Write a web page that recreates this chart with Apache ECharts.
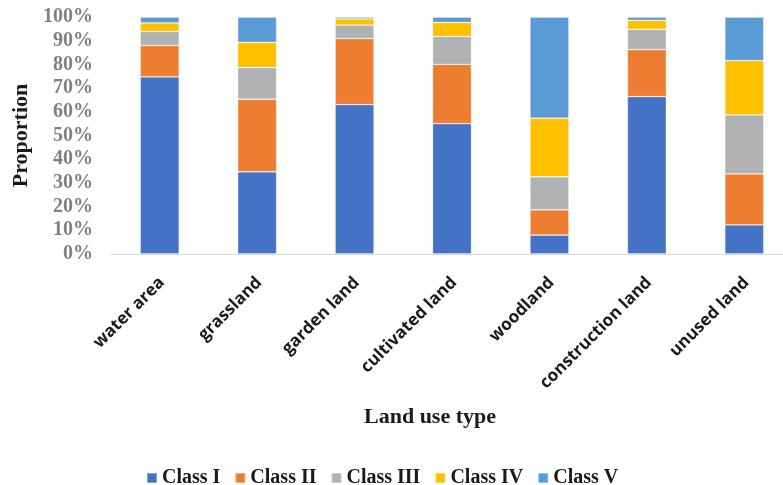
<!DOCTYPE html>
<html>
<head>
<meta charset="utf-8">
<script src="https://cdn.jsdelivr.net/npm/echarts@6/dist/echarts.min.js"></script>
<style>
  html, body { margin: 0; padding: 0; background: #fff; }
  #chart { width: 783px; height: 485px; }
</style>
</head>
<body>
<div id="chart"></div>
<script>
// Land use types along the x axis
const landTypes = ['water area', 'grassland', 'garden land', 'cultivated land', 'woodland', 'construction land', 'unused land'];

// Share (%) of each class within every land use type
const classI   = [74.7, 34.7, 63.0, 55.0,  8.0, 66.4, 12.3];
const classII  = [13.3, 30.6, 27.9, 25.0, 10.6, 19.8, 21.5];
const classIII = [ 5.9, 13.4,  5.7, 11.8, 14.0,  8.6, 24.9];
const classIV  = [ 3.6, 10.6,  2.6,  5.9, 24.7,  3.8, 22.9];
const classV   = [ 2.5, 10.7,  0.8,  2.3, 42.7,  1.4, 18.4];

const classNames = ['Class I', 'Class II', 'Class III', 'Class IV', 'Class V'];
const classValues = [classI, classII, classIII, classIV, classV];
const classColors = ['#4472C4', '#ED7D31', '#B0B1B3', '#FFC000', '#5B9BD5'];

const serif = '"Liberation Serif", "Times New Roman", serif';

const chart = echarts.init(document.getElementById('chart'), null, { renderer: 'canvas' });

chart.setOption({
  animation: false,
  backgroundColor: '#ffffff',
  // the plot runs a little past the right edge of the canvas
  grid: {
    left: 111, top: 17, width: 682, height: 237,
    containLabel: false,
    outerBoundsMode: 'none'
  },
  legend: {
    data: classNames,
    left: 141,
    top: 463,
    itemWidth: 10,
    itemHeight: 10,
    itemGap: 14,
    icon: 'rect',
    textStyle: { fontFamily: serif, fontWeight: 'bold', fontSize: 20, color: '#1a1a1a' }
  },
  xAxis: {
    type: 'category',
    data: landTypes,
    name: 'Land use type',
    nameLocation: 'middle',
    nameGap: 152,
    nameTextStyle: {
      fontFamily: serif, fontWeight: 'bold', fontSize: 22, color: '#1a1a1a',
      padding: [0, 44, 0, 0]
    },
    axisLine: { show: true, lineStyle: { color: '#d9d9d9', width: 1 } },
    axisTick: { show: false },
    axisLabel: {
      rotate: 45,
      interval: 0,
      margin: 28,
      padding: [0, -3, 0, 0],
      fontFamily: '"Open Sans", Lato, sans-serif',
      fontWeight: 'bold',
      fontSize: 17,
      color: '#1a1a1a'
    }
  },
  yAxis: {
    type: 'value',
    min: 0,
    max: 100,
    interval: 10,
    name: 'Proportion',
    nameLocation: 'middle',
    nameGap: 76,
    nameTextStyle: { fontFamily: serif, fontWeight: 'bold', fontSize: 22, color: '#1a1a1a' },
    axisLine: { show: false },
    axisTick: { show: false },
    splitLine: { show: false },
    axisLabel: {
      formatter: '{value}%',
      margin: 18,
      fontFamily: serif,
      fontWeight: 'bold',
      fontSize: 20,
      color: '#808080'
    }
  },
  series: classNames.map((name, i) => ({
    name: name,
    type: 'bar',
    stack: 'total',
    barWidth: 39,
    data: classValues[i],
    itemStyle: { color: classColors[i], borderColor: 'rgba(255,255,255,0.35)', borderWidth: 0.8 }
  }))
});
</script>
</body>
</html>
